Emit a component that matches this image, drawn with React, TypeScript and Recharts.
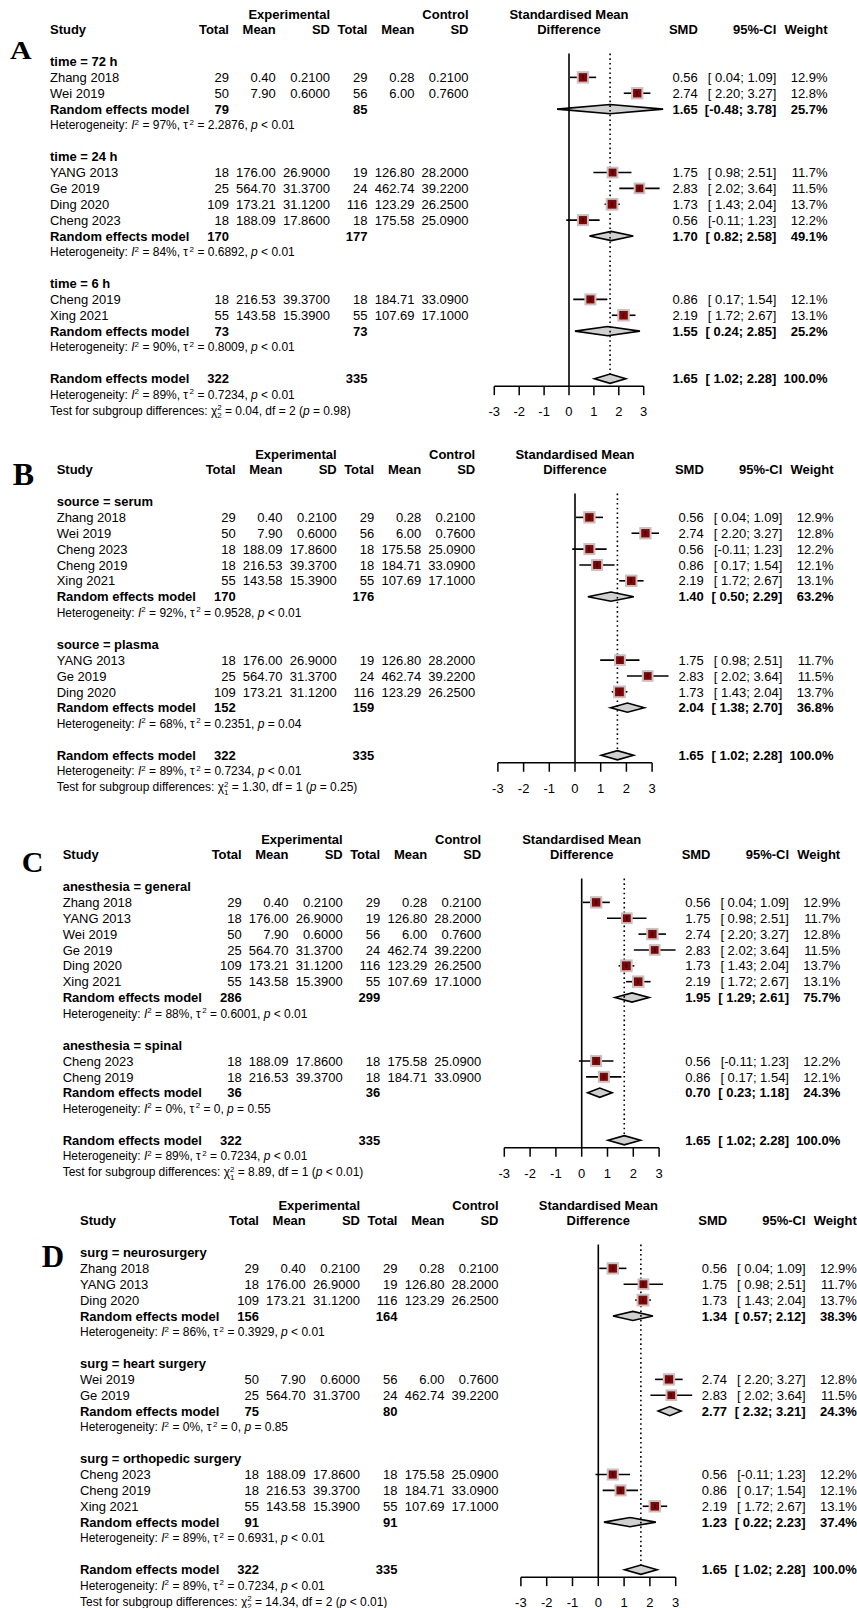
import React from "react";
import {
  ScatterChart,
  Scatter,
  XAxis,
  YAxis,
  ReferenceLine,
  ReferenceArea,
} from "recharts";

// study level data (same 8 studies in every panel)
const studies = ["Zhang 2018", "Wei 2019", "YANG 2013", "Ge 2019", "Ding 2020", "Cheng 2023", "Cheng 2019", "Xing 2021"];
const expTotal = [29, 50, 18, 25, 109, 18, 18, 55];
const expMean = [0.4, 7.9, 176.0, 564.7, 173.21, 188.09, 216.53, 143.58];
const expSD = [0.21, 0.6, 26.9, 31.37, 31.12, 17.86, 39.37, 15.39];
const ctlTotal = [29, 56, 19, 24, 116, 18, 18, 55];
const ctlMean = [0.28, 6.0, 126.8, 462.74, 123.29, 175.58, 184.71, 107.69];
const ctlSD = [0.21, 0.76, 28.2, 39.22, 26.25, 25.09, 33.09, 17.1];
const smd = [0.56, 2.74, 1.75, 2.83, 1.73, 0.56, 0.86, 2.19];
const ciLow = [0.04, 2.2, 0.98, 2.02, 1.43, -0.11, 0.17, 1.72];
const ciHigh = [1.09, 3.27, 2.51, 3.64, 2.04, 1.23, 1.54, 2.67];
const weight = [12.9, 12.8, 11.7, 11.5, 13.7, 12.2, 12.1, 13.1];

// overall model
const overallTotals = [322, 335];
const overallPooled = [1.65, 1.02, 2.28, 100.0];
const overallHet = ["89%", "0.7234", "< 0.01"];

// panel A: time
const groupsA = ["time = 72 h", "time = 24 h", "time = 6 h"];
const membersA = [[0, 1], [2, 3, 4, 5], [6, 7]];
const totalsA = [[79, 85], [170, 177], [73, 73]];
const pooledA = [[1.65, -0.48, 3.78, 25.7], [1.7, 0.82, 2.58, 49.1], [1.55, 0.24, 2.85, 25.2]];
const hetA = [["97%", "2.2876", "< 0.01"], ["84%", "0.6892", "< 0.01"], ["90%", "0.8009", "< 0.01"]];
const testA = ["0.04", "2", "= 0.98"];

// panel B: source
const groupsB = ["source = serum", "source = plasma"];
const membersB = [[0, 1, 5, 6, 7], [2, 3, 4]];
const totalsB = [[170, 176], [152, 159]];
const pooledB = [[1.4, 0.5, 2.29, 63.2], [2.04, 1.38, 2.7, 36.8]];
const hetB = [["92%", "0.9528", "< 0.01"], ["68%", "0.2351", "= 0.04"]];
const testB = ["1.30", "1", "= 0.25"];

// panel C: anesthesia
const groupsC = ["anesthesia = general", "anesthesia = spinal"];
const membersC = [[0, 2, 1, 3, 4, 7], [5, 6]];
const totalsC = [[286, 299], [36, 36]];
const pooledC = [[1.95, 1.29, 2.61, 75.7], [0.7, 0.23, 1.18, 24.3]];
const hetC = [["88%", "0.6001", "< 0.01"], ["0%", "0", "= 0.55"]];
const testC = ["8.89", "1", "< 0.01"];

// panel D: surgery
const groupsD = ["surg = neurosurgery", "surg = heart surgery", "surg = orthopedic surgery"];
const membersD = [[0, 2, 4], [1, 3], [5, 6, 7]];
const totalsD = [[156, 164], [75, 80], [91, 91]];
const pooledD = [[1.34, 0.57, 2.12, 38.3], [2.77, 2.32, 3.21, 24.3], [1.23, 0.22, 2.23, 37.4]];
const hetD = [["86%", "0.3929", "< 0.01"], ["0%", "0", "= 0.85"], ["89%", "0.6931", "< 0.01"]];
const testD = ["14.34", "2", "< 0.01"];

const TICKS = [-3, -2, -1, 0, 1, 2, 3];

const W = 857;
const DY = 15.86;
const FONT = "'Liberation Sans', Arial, Helvetica, sans-serif";
const SERIF = "'Liberation Serif', 'Times New Roman', serif";
const BIG = 13;
const SMALL = 12;

type Layout = {
  row0: number;
  L: number;
  Z: number;
  U: number;
  letterX: number;
  letterBase: number;
  letterSize: number;
  letterSy: number;
};

const layoutA: Layout = { row0: 14, L: 50, Z: 569, U: 24.9, letterX: 10, letterBase: 59.3, letterSize: 30, letterSy: 0.83 };
const layoutB: Layout = { row0: 454.3, L: 56.7, Z: 575, U: 25.7, letterX: 12.7, letterBase: 485, letterSize: 32, letterSy: 1 };
const layoutC: Layout = { row0: 839.3, L: 62.7, Z: 581.7, U: 25.8, letterX: 21.7, letterBase: 871.7, letterSize: 30, letterSy: 1 };
const layoutD: Layout = { row0: 1205, L: 80, Z: 598.3, U: 25.8, letterX: 41.7, letterBase: 1267.3, letterSize: 31, letterSy: 1 };

const fmtCI = (lo: number, hi: number) =>
  `[${lo < 0 ? "" : " "}${lo.toFixed(2)}; ${hi.toFixed(2)}]`;
const fmtW = (w: number) => `${w.toFixed(1)}%`;

function Txt({ x, y, anchor = "start", bold = false, size = BIG, children }: any) {
  return (
    <text
      x={x}
      y={y}
      dy="0.36em"
      textAnchor={anchor}
      fontWeight={bold ? "bold" : "normal"}
      fontSize={size}
      fontFamily={FONT}
      fill="#000"
      style={{ whiteSpace: "pre" }}
    >
      {children}
    </text>
  );
}

function HetText({ x, y, het }: any) {
  return (
    <text x={x} y={y} dy="0.36em" fontSize={SMALL} fontFamily={FONT} fill="#000" style={{ whiteSpace: "pre" }}>
      {"Heterogeneity: "}
      <tspan fontStyle="italic">I</tspan>
      <tspan dy={-4.5} fontSize={8}>2</tspan>
      <tspan dy={4.5}>{` = ${het[0]}, \u03c4`}</tspan>
      <tspan dx={1.5} dy={-4.5} fontSize={8}>2</tspan>
      <tspan dy={4.5}>{` = ${het[1]}, `}</tspan>
      <tspan fontStyle="italic">p</tspan>
      <tspan>{` ${het[2]}`}</tspan>
    </text>
  );
}

function TestText({ x, y, test }: any) {
  return (
    <text x={x} y={y} dy="0.36em" fontSize={SMALL} fontFamily={FONT} fill="#000" style={{ whiteSpace: "pre" }}>
      {"Test for subgroup differences: \u03c7"}
      <tspan dy={-4.5} fontSize={8}>2</tspan>
      <tspan dx={-4.5} dy={8} fontSize={8}>{test[1]}</tspan>
      <tspan dy={-3.5}>{` = ${test[0]}, df = ${test[1]} (`}</tspan>
      <tspan fontStyle="italic">p</tspan>
      <tspan>{` ${test[2]})`}</tspan>
    </text>
  );
}

function cols(lay: Layout) {
  return {
    L: lay.L,
    T1: lay.L + 179,
    M1: lay.L + 225.8,
    S1: lay.L + 280,
    T2: lay.L + 317.5,
    M2: lay.L + 364.5,
    S2: lay.L + 418.5,
    SMD: lay.Z + 128.8,
    CI: lay.Z + 207.3,
    WT: lay.Z + 258.5,
  };
}

function RowText(props: any) {
  const { cy, payload: r, lay, test } = props;
  const c = cols(lay);
  if (r.kind === "h1") {
    return (
      <g>
        <Txt x={c.S1} y={cy} anchor="end" bold>Experimental</Txt>
        <Txt x={c.S2} y={cy} anchor="end" bold>Control</Txt>
        <Txt x={lay.Z} y={cy} anchor="middle" bold>Standardised Mean</Txt>
      </g>
    );
  }
  if (r.kind === "h2") {
    return (
      <g>
        <Txt x={c.L} y={cy} bold>Study</Txt>
        <Txt x={c.T1} y={cy} anchor="end" bold>Total</Txt>
        <Txt x={c.M1} y={cy} anchor="end" bold>Mean</Txt>
        <Txt x={c.S1} y={cy} anchor="end" bold>SD</Txt>
        <Txt x={c.T2} y={cy} anchor="end" bold>Total</Txt>
        <Txt x={c.M2} y={cy} anchor="end" bold>Mean</Txt>
        <Txt x={c.S2} y={cy} anchor="end" bold>SD</Txt>
        <Txt x={lay.Z} y={cy} anchor="middle" bold>Difference</Txt>
        <Txt x={c.SMD} y={cy} anchor="end" bold>SMD</Txt>
        <Txt x={c.CI} y={cy} anchor="end" bold>95%-CI</Txt>
        <Txt x={c.WT} y={cy} anchor="end" bold>Weight</Txt>
      </g>
    );
  }
  if (r.kind === "group") {
    return <Txt x={c.L} y={cy} bold>{r.label}</Txt>;
  }
  if (r.kind === "study") {
    const i = r.i;
    return (
      <g>
        <Txt x={c.L} y={cy}>{studies[i]}</Txt>
        <Txt x={c.T1} y={cy} anchor="end">{String(expTotal[i])}</Txt>
        <Txt x={c.M1} y={cy} anchor="end">{expMean[i].toFixed(2)}</Txt>
        <Txt x={c.S1} y={cy} anchor="end">{expSD[i].toFixed(4)}</Txt>
        <Txt x={c.T2} y={cy} anchor="end">{String(ctlTotal[i])}</Txt>
        <Txt x={c.M2} y={cy} anchor="end">{ctlMean[i].toFixed(2)}</Txt>
        <Txt x={c.S2} y={cy} anchor="end">{ctlSD[i].toFixed(4)}</Txt>
        <Txt x={c.SMD} y={cy} anchor="end">{smd[i].toFixed(2)}</Txt>
        <Txt x={c.CI} y={cy} anchor="end">{fmtCI(ciLow[i], ciHigh[i])}</Txt>
        <Txt x={c.WT} y={cy} anchor="end">{fmtW(weight[i])}</Txt>
      </g>
    );
  }
  if (r.kind === "het") {
    return <HetText x={c.L} y={cy} het={r.het} />;
  }
  // rem / overall
  const [est, lo, hi, w] = r.pooled;
  return (
    <g>
      <Txt x={c.L} y={cy} bold>Random effects model</Txt>
      <Txt x={c.T1} y={cy} anchor="end" bold>{String(r.totals[0])}</Txt>
      <Txt x={c.T2} y={cy} anchor="end" bold>{String(r.totals[1])}</Txt>
      <Txt x={c.SMD} y={cy} anchor="end" bold>{est.toFixed(2)}</Txt>
      <Txt x={c.CI} y={cy} anchor="end" bold>{fmtCI(lo, hi)}</Txt>
      <Txt x={c.WT} y={cy} anchor="end" bold>{fmtW(w)}</Txt>
      {r.kind === "overall" && <HetText x={c.L} y={cy + DY} het={overallHet} />}
      {r.kind === "overall" && <TestText x={c.L} y={cy + 2 * DY} test={test} />}
    </g>
  );
}

function StudySquare(props: any) {
  const { cx, cy, payload } = props;
  const s = 12.4 * Math.sqrt(payload.w / 12.9);
  const b = 2;
  return (
    <g>
      <rect x={cx - s / 2} y={cy - s / 2} width={s} height={s} fill="#c4c4c4" />
      <rect x={cx - s / 2 + b} y={cy - s / 2 + b} width={s - 2 * b} height={s - 2 * b} fill="#8b0000" />
      <line x1={cx} x2={cx} y1={cy - 2.2} y2={cy + 2.2} stroke="#000" strokeWidth={1.3} />
    </g>
  );
}

function diamondShape(frac: number) {
  return (p: any) => {
    const { x, y, width, height } = p;
    const mx = x + width * frac;
    const pts = `${x},${y + height / 2} ${mx},${y} ${x + width},${y + height / 2} ${mx},${y + height}`;
    return <polygon points={pts} fill="#d0d0d0" stroke="#000" strokeWidth={1.6} />;
  };
}

function buildRows(groups: string[], members: number[][], totals: number[][], pooled: number[][], het: string[][]) {
  const rows: any[] = [{ kind: "h1" }, { kind: "h2" }, { kind: "blank" }];
  groups.forEach((g, gi) => {
    rows.push({ kind: "group", label: g });
    members[gi].forEach((i) => rows.push({ kind: "study", i }));
    rows.push({ kind: "rem", totals: totals[gi], pooled: pooled[gi] });
    rows.push({ kind: "het", het: het[gi] });
    rows.push({ kind: "blank" });
  });
  rows.push({ kind: "overall", totals: overallTotals, pooled: overallPooled });
  return rows.map((r, k) => ({ ...r, y: k, x: 0 }));
}

function ForestPanel({ letter, lay, groups, members, totals, pooled, het, test }: any) {
  const rows = buildRows(groups, members, totals, pooled, het);
  const overallRow = rows.length - 1;
  const yMax = overallRow + 0.47;
  const plotH = (yMax + 0.5) * DY;
  const top = lay.row0 - 0.5 * DY;
  const left = lay.Z - 3 * lay.U;
  const right = W - (lay.Z + 3 * lay.U);

  const studyPts = rows
    .filter((r) => r.kind === "study")
    .map((r) => ({ x: smd[r.i], y: r.y, w: weight[r.i], lo: ciLow[r.i], hi: ciHigh[r.i] }));
  const textPts = rows.filter((r) => r.kind !== "blank");
  const pooledRows = rows.filter((r) => r.kind === "rem" || r.kind === "overall");
  const fs = lay.letterSize;

  return (
    <>
      <div
        style={{
          position: "absolute",
          left: lay.letterX,
          top: lay.letterBase - fs * 0.8375,
          fontFamily: SERIF,
          fontWeight: "bold",
          fontSize: fs,
          lineHeight: `${fs}px`,
          transform: `scaleY(${lay.letterSy})`,
          transformOrigin: `0px ${fs * 0.8375}px`,
          color: "#000",
        }}
      >
        {letter}
      </div>
      <div style={{ position: "absolute", left: 0, top, width: W }}>
        <ScatterChart
          width={W}
          height={plotH + 50}
          margin={{ top: 0, right, left, bottom: 20 }}
          style={{ overflow: "visible" }}
        >
          <XAxis
            type="number"
            dataKey="x"
            domain={[-3, 3]}
            ticks={TICKS}
            interval={0}
            height={30}
            tickSize={9}
            tickMargin={12}
            axisLine={{ stroke: "#000", strokeWidth: 1.5 }}
            tickLine={{ stroke: "#000", strokeWidth: 1.5 }}
            tick={{ fill: "#000", fontSize: BIG, fontFamily: FONT }}
          />
          <YAxis type="number" dataKey="y" domain={[-0.5, yMax]} reversed hide />
          <ReferenceLine
            segment={[{ x: 0, y: 2.5 }, { x: 0, y: yMax }]}
            stroke="#000"
            strokeWidth={1.6}
            ifOverflow="visible"
          />
          <ReferenceLine
            segment={[{ x: overallPooled[0], y: 2.5 }, { x: overallPooled[0], y: overallRow - 0.29 }]}
            stroke="#000"
            strokeWidth={1.6}
            strokeDasharray="1.6 3.1"
            ifOverflow="visible"
          />
          <Scatter data={studyPts} isAnimationActive={false} shape={(p: any) => <StudySquare {...p} />} />
          {studyPts.map((s, k) => (
            <ReferenceLine
              key={`ci${k}`}
              segment={[{ x: s.lo, y: s.y }, { x: s.hi, y: s.y }]}
              stroke="#000"
              strokeWidth={1.6}
              ifOverflow="visible"
            />
          ))}
          {pooledRows.map((r, k) => {
            const [est, lo, hi] = r.pooled;
            return (
              <ReferenceArea
                key={`dm${k}`}
                x1={lo}
                x2={hi}
                y1={r.y - 0.29}
                y2={r.y + 0.29}
                ifOverflow="visible"
                shape={diamondShape((est - lo) / (hi - lo))}
              />
            );
          })}
          <Scatter
            data={textPts}
            isAnimationActive={false}
            shape={(p: any) => <RowText {...p} lay={lay} test={test} />}
          />
        </ScatterChart>
      </div>
    </>
  );
}

export default function App() {
  return (
    <div style={{ position: "absolute", left: 0, top: 0, width: W, height: 1608, background: "#fff", overflow: "hidden" }}>
      <ForestPanel letter="A" lay={layoutA} groups={groupsA} members={membersA} totals={totalsA} pooled={pooledA} het={hetA} test={testA} />
      <ForestPanel letter="B" lay={layoutB} groups={groupsB} members={membersB} totals={totalsB} pooled={pooledB} het={hetB} test={testB} />
      <ForestPanel letter="C" lay={layoutC} groups={groupsC} members={membersC} totals={totalsC} pooled={pooledC} het={hetC} test={testC} />
      <ForestPanel letter="D" lay={layoutD} groups={groupsD} members={membersD} totals={totalsD} pooled={pooledD} het={hetD} test={testD} />
    </div>
  );
}
